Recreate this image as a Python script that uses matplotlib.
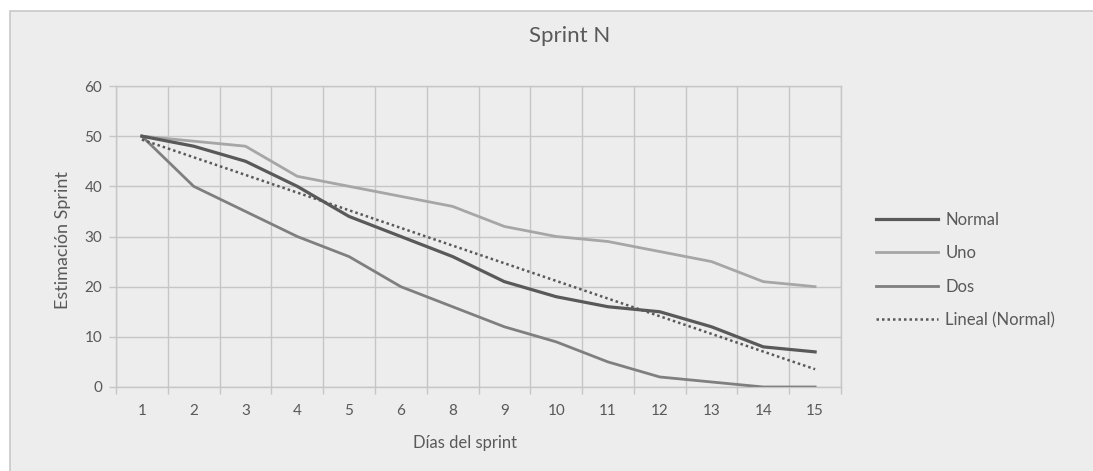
#!/usr/bin/env python3

import numpy as np
import matplotlib
matplotlib.use('Agg')
import matplotlib.pyplot as plt
from matplotlib.patches import Rectangle

plt.rcParams['font.family'] = ['Lato', 'DejaVu Sans']

# Sprint days (day 7 has no entry)
dias = ['1', '2', '3', '4', '5', '6', '8', '9', '10', '11', '12', '13', '14', '15']
normal = [50, 48, 45, 40, 34, 30, 26, 21, 18, 16, 15, 12, 8, 7]
uno = [50, 49, 48, 42, 40, 38, 36, 32, 30, 29, 27, 25, 21, 20]
dos = [50, 40, 35, 30, 26, 20, 16, 12, 9, 5, 2, 1, 0, 0]

TEXT = '#595959'
BG = '#ededed'
GRID = '#c6c6c6'

fig = plt.figure(figsize=(10.93, 4.71), dpi=100)
fig.patch.set_facecolor('white')

# chart area frame, behind everything else
fig.patches.append(Rectangle((10 / 1093, -0.1), 1.2, (471 - 11) / 471 + 0.1,
                             transform=fig.transFigure, facecolor=BG,
                             edgecolor='#c8c8c8', linewidth=1.2, zorder=-10))

ax = fig.add_axes([116 / 1093, 84 / 471, 725 / 1093, 301 / 471])
ax.set_facecolor(BG)

x = np.arange(len(dias))
ax.plot(x, normal, color='#595959', lw=2.3, label='Normal', solid_joinstyle='round', zorder=4)
ax.plot(x, uno, color='#a6a6a6', lw=2.0, label='Uno', solid_joinstyle='round', zorder=3)
ax.plot(x, dos, color='#7f7f7f', lw=2.0, label='Dos', solid_joinstyle='round', zorder=3)

# linear trend of the Normal series
coef = np.polyfit(x, normal, 1)
ax.plot(x, np.polyval(coef, x), color='#595959', lw=1.8, linestyle=(0, (1, 1.2)),
        label='Lineal (Normal)', zorder=5)

ax.set_xlim(-0.5, len(dias) - 0.5)
ax.set_ylim(0, 60)
ax.set_yticks(range(0, 61, 10))

# gridlines on category boundaries, labels at category centres
ax.set_xticks(np.arange(-0.5, len(dias), 1.0))
ax.set_xticklabels([])
ax.set_xticks(x, minor=True)
ax.set_xticklabels(dias, minor=True)
ax.tick_params(axis='x', which='major', length=5, color=GRID, width=1)
ax.tick_params(axis='x', which='minor', length=0, pad=12, labelsize=11, labelcolor=TEXT)
ax.tick_params(axis='y', length=5, color=GRID, width=1, pad=5, labelsize=11, labelcolor=TEXT)

ax.grid(True, which='major', color=GRID, linewidth=1)
ax.set_axisbelow(True)
for side in ['top', 'right', 'left', 'bottom']:
    ax.spines[side].set_color(GRID)
    ax.spines[side].set_linewidth(1)

ax.set_xlabel('Días del sprint', color=TEXT, fontsize=12)
ax.xaxis.set_label_coords((465 - 116) / 725, -48 / 301)
ax.set_ylabel('Estimación Sprint', color=TEXT, fontsize=13)
ax.yaxis.set_label_coords(-45 / 725, 0.5 + (301 / 2 - (240 - 86)) / 301)
fig.text(570 / 1093, 1 - 36 / 471, 'Sprint N', color=TEXT, fontsize=16,
         ha='center', va='center')

ax.legend(loc='center left', bbox_to_anchor=(876 / 1093, 201 / 471),
          bbox_transform=fig.transFigure, frameon=False, fontsize=12,
          labelcolor=TEXT, handlelength=3.7, handletextpad=0.45,
          labelspacing=1.05, borderaxespad=0, borderpad=0)

fig.savefig('out.png', dpi=100, facecolor=fig.get_facecolor())
